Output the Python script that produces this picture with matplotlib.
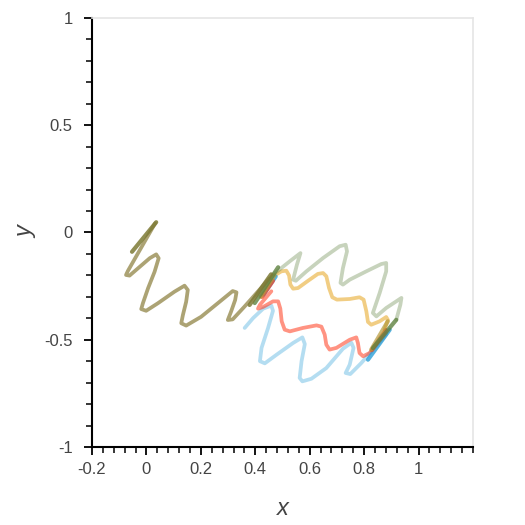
import numpy as np
import matplotlib.pyplot as plt
from matplotlib.ticker import MultipleLocator

plt.rcParams['font.family'] = ['Liberation Sans', 'DejaVu Sans']

# wiggly traces (data units)
oliveX = [0.032, -0.068, -0.075, -0.062, -0.031, 0.012, 0.036, 0.045, 0.030, 0.006,
          -0.013, -0.019, -0.001, 0.042, 0.103, 0.140, 0.152, 0.146, 0.134, 0.128,
          0.146, 0.201, 0.262, 0.317, 0.331, 0.326, 0.311, 0.299, 0.317, 0.360,
          0.409, 0.452]
oliveY = [0.043, -0.179, -0.198, -0.201, -0.167, -0.120, -0.102, -0.120, -0.183, -0.260,
          -0.330, -0.357, -0.365, -0.330, -0.276, -0.248, -0.268, -0.323, -0.385, -0.423,
          -0.434, -0.393, -0.330, -0.273, -0.279, -0.315, -0.369, -0.408, -0.405, -0.346,
          -0.276, -0.214]

greenX = [0.465, 0.527, 0.566, 0.553, 0.539, 0.549, 0.588, 0.649, 0.710, 0.732,
          0.737, 0.722, 0.713, 0.722, 0.747, 0.808, 0.863, 0.881, 0.881, 0.857,
          0.832, 0.845, 0.881, 0.918, 0.937, 0.933, 0.918]
greenY = [-0.197, -0.134, -0.096, -0.150, -0.220, -0.225, -0.181, -0.119, -0.064, -0.057,
          -0.088, -0.166, -0.235, -0.243, -0.220, -0.181, -0.147, -0.142, -0.181, -0.282,
          -0.375, -0.391, -0.352, -0.321, -0.305, -0.337, -0.407]

yellowX = [0.459, 0.496, 0.514, 0.524, 0.529, 0.539, 0.557, 0.594, 0.630, 0.649,
           0.661, 0.671, 0.683, 0.700, 0.747, 0.783, 0.798, 0.808, 0.814, 0.826,
           0.857, 0.881, 0.887, 0.875]
yellowY = [-0.209, -0.181, -0.178, -0.200, -0.243, -0.262, -0.259, -0.225, -0.193, -0.189,
           -0.204, -0.259, -0.302, -0.313, -0.310, -0.302, -0.313, -0.367, -0.417, -0.430,
           -0.414, -0.394, -0.407, -0.453]

redX = [0.459, 0.417, 0.410, 0.429, 0.465, 0.484, 0.492, 0.497, 0.508, 0.527,
        0.575, 0.625, 0.643, 0.655, 0.661, 0.673, 0.698, 0.747, 0.771, 0.777,
        0.783, 0.796, 0.820, 0.857, 0.881]
redY = [-0.274, -0.337, -0.355, -0.347, -0.321, -0.321, -0.355, -0.414, -0.453, -0.461,
        -0.445, -0.433, -0.439, -0.476, -0.523, -0.546, -0.538, -0.500, -0.489, -0.515,
        -0.562, -0.577, -0.562, -0.507, -0.469]

blueX = [0.361, 0.392, 0.429, 0.459, 0.465, 0.447, 0.423, 0.417, 0.435, 0.478,
         0.539, 0.573, 0.582, 0.570, 0.563, 0.573, 0.606, 0.661, 0.722, 0.753,
         0.761, 0.747, 0.732, 0.749, 0.790, 0.832, 0.881]
blueY = [-0.445, -0.399, -0.355, -0.341, -0.365, -0.445, -0.538, -0.600, -0.610, -0.570,
         -0.515, -0.489, -0.520, -0.600, -0.678, -0.694, -0.682, -0.632, -0.542, -0.514,
         -0.538, -0.616, -0.655, -0.660, -0.608, -0.546, -0.476]

# short straight end pieces (x0, y0, x1, y1)
oliveTails = [(-0.053, -0.090, 0.036, 0.048), (0.379, -0.338, 0.458, -0.195)]
greenTails = [(0.398, -0.329, 0.484, -0.162), (0.918, -0.407, 0.832, -0.539)]
yellowTails = [(0.420, -0.300, 0.470, -0.200), (0.887, -0.414, 0.826, -0.546)]
redTails = [(0.425, -0.300, 0.465, -0.225), (0.828, -0.548, 0.880, -0.455)]
blueTails = [(0.430, -0.290, 0.475, -0.205), (0.814, -0.593, 0.894, -0.453)]


def drawWave(ax, xs, ys, color, alpha):
    ax.plot(xs, ys, color=color, alpha=alpha, lw=2.7,
            solid_joinstyle='round', solid_capstyle='round')


def drawTails(ax, tails, color, alpha):
    for (x0, y0, x1, y1) in tails:
        ax.plot([x0, x1], [y0, y1], color=color, alpha=alpha, lw=3.0,
                solid_capstyle='round')


fig = plt.figure(figsize=(5.25, 5.25), dpi=100)
ax = fig.add_axes([0.1752, 0.1486, 0.7258, 0.8171])

drawWave(ax, blueX, blueY, '#2a9fd8', 0.35)
drawWave(ax, redX, redY, '#ff3a1c', 0.55)
drawWave(ax, yellowX, yellowY, '#e6a51e', 0.55)
drawWave(ax, greenX, greenY, '#5f8240', 0.35)
drawWave(ax, oliveX, oliveY, '#80722a', 0.65)

drawTails(ax, blueTails, '#2a9fd8', 0.8)
drawTails(ax, redTails, '#ff3a1c', 0.7)
drawTails(ax, yellowTails, '#b59a3a', 0.7)
drawTails(ax, greenTails, '#5f8240', 0.8)
drawTails(ax, oliveTails, '#7d7a35', 0.85)

ax.set_xlim(-0.2, 1.2)
ax.set_ylim(-1, 1)
ax.xaxis.set_minor_locator(MultipleLocator(0.04))
ax.yaxis.set_minor_locator(MultipleLocator(0.1))
ax.set_xticks([-0.2, 0, 0.2, 0.4, 0.6, 0.8, 1])
ax.set_xticklabels(['-0.2', '0', '0.2', '0.4', '0.6', '0.8', '1'])
ax.set_yticks([-1, -0.5, 0, 0.5, 1])
ax.set_yticklabels(['-1', '-0.5', '0', '0.5', '1'])

for side in ['top', 'right']:
    ax.spines[side].set_color('#e5e5e5')
    ax.spines[side].set_linewidth(1.2)
for side in ['left', 'bottom']:
    ax.spines[side].set_color('black')
    ax.spines[side].set_linewidth(1.5)

ax.tick_params(which='major', direction='out', length=6, width=1.3,
               labelsize=12, labelcolor='#444444')
ax.tick_params(which='minor', direction='out', length=4, width=1.1)
ax.tick_params(axis='y', which='major', pad=8)
ax.tick_params(axis='x', which='major', pad=5)

ax.set_xlabel('x', fontsize=17, style='italic', color='#444444', labelpad=14)
ax.set_ylabel('y', fontsize=17, style='italic', color='#444444', labelpad=5)

fig.savefig('out.png', dpi=100)
